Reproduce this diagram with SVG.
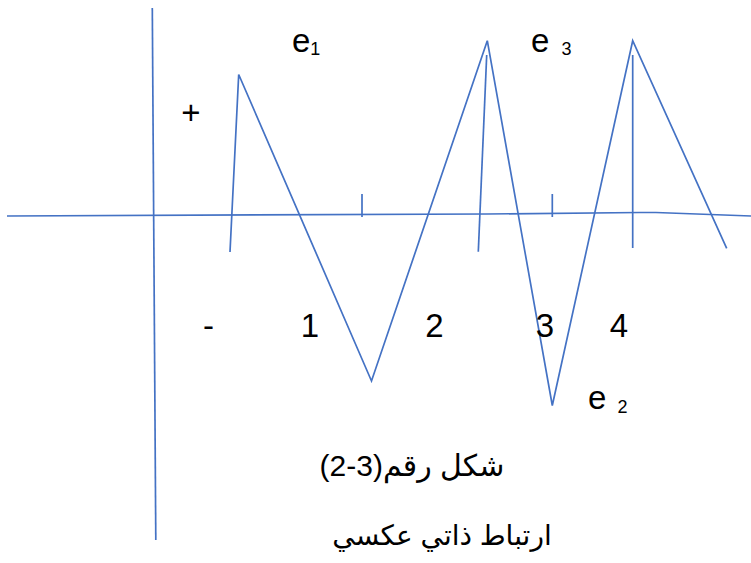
<svg xmlns="http://www.w3.org/2000/svg" width="751" height="563" viewBox="0 0 751 563">
<style>
.ln{fill:none;stroke:#4472C4;stroke-width:1.7;stroke-linejoin:miter;stroke-linecap:butt}
.t{font-family:"Liberation Sans","DejaVu Sans",Arial,sans-serif;fill:#000}
.lab{font-size:33px}
.sub{font-size:18px}
.ar{font-size:28px}
.cap{font-size:30px}
</style>
<rect width="751" height="563" fill="#fff"/>
<g id="connectors">
<polyline id="x-axis" class="ln" points="7,216 487,214 640,212.5 656,212.5 751,216"/>
<line id="y-axis" class="ln" x1="152.3" y1="8" x2="155.8" y2="540"/>
<line id="tick1" class="ln" x1="362" y1="194" x2="362" y2="217"/>
<line id="tick2" class="ln" x1="552.3" y1="194" x2="552.3" y2="217"/>
<polyline id="zigzag" class="ln" points="230,252 238.7,74.5 371.5,381 487.3,40.7 552.3,405.5 632.7,40.7 726.7,248.3"/>
<line id="vline1" class="ln" x1="486.7" y1="55" x2="478.3" y2="251.7"/>
<line id="vline2" class="ln" x1="632.7" y1="55" x2="632.7" y2="248"/>
</g>
<g id="label-e1"><text class="t lab" x="292" y="52">e<tspan class="sub" dy="3">1</tspan></text></g>
<g id="label-e3"><text class="t lab" x="531" y="52">e <tspan class="sub" dx="3" dy="3">3</tspan></text></g>
<g id="label-e2"><text class="t lab" x="588" y="409">e <tspan class="sub" dx="2" dy="4">2</tspan></text></g>
<g id="label-plus"><text class="t lab" x="191" y="123.5" text-anchor="middle">+</text></g>
<g id="label-minus"><text class="t lab" x="208.5" y="337" text-anchor="middle">-</text></g>
<g id="label-1"><text class="t lab" x="310" y="337" text-anchor="middle">1</text></g>
<g id="label-2"><text class="t lab" x="434.5" y="337" text-anchor="middle">2</text></g>
<g id="label-3"><text class="t lab" x="545" y="337" text-anchor="middle">3</text></g>
<g id="label-4"><text class="t lab" x="619" y="337" text-anchor="middle">4</text></g>
<g id="caption-1"><text class="t cap" x="412" y="476" text-anchor="middle" direction="rtl" unicode-bidi="embed">شكل رقم(3-2)</text></g>
<g id="caption-2"><text class="t ar" x="442" y="545" text-anchor="middle" direction="rtl" unicode-bidi="embed">ارتباط ذاتي عكسي</text></g>
</svg>
